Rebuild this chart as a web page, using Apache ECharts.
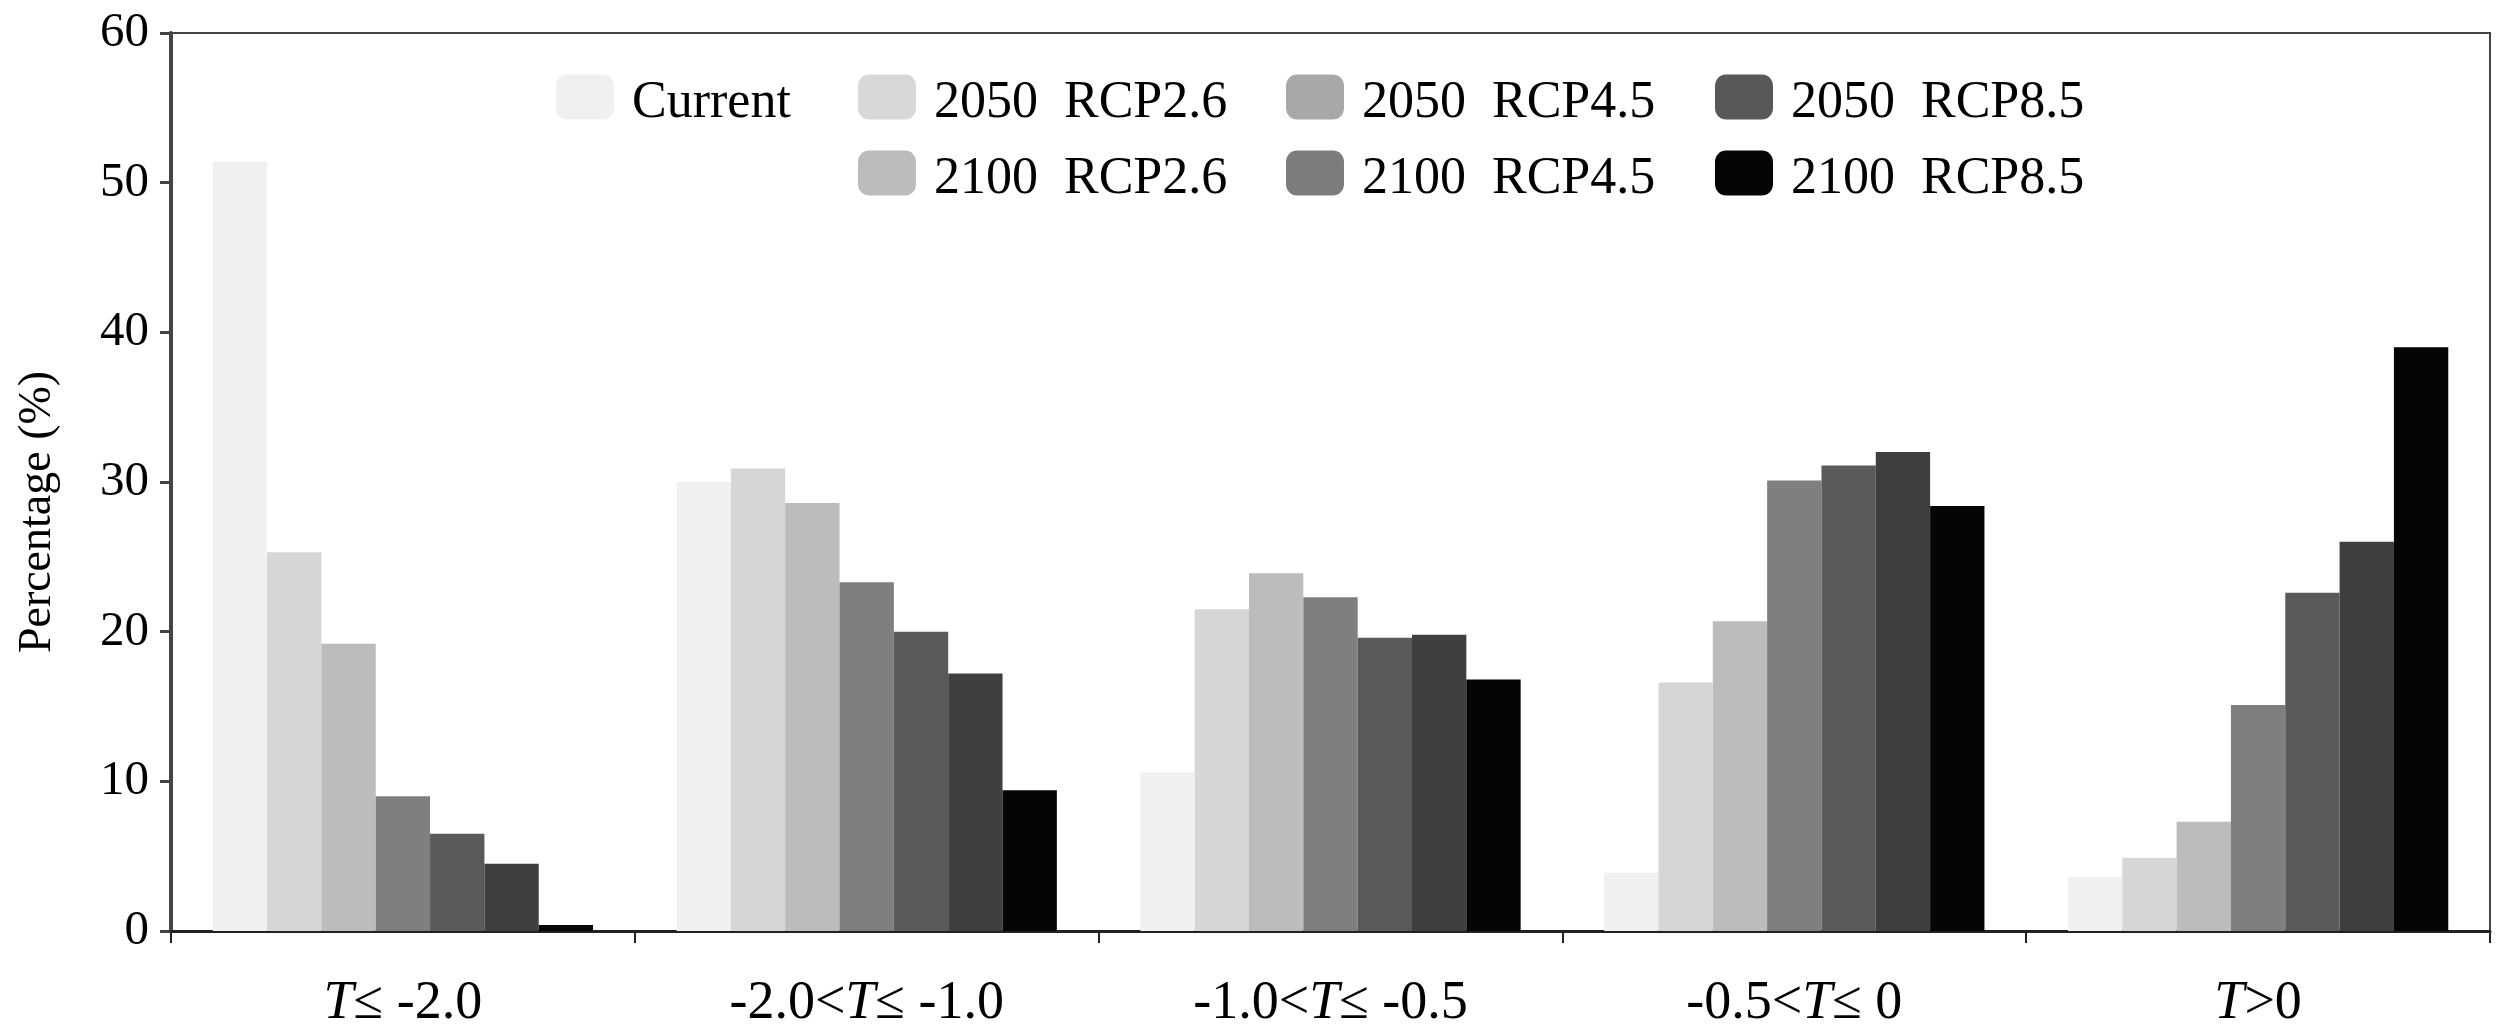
<!DOCTYPE html>
<html>
<head>
<meta charset="utf-8">
<script src="https://cdn.jsdelivr.net/npm/echarts@6/dist/echarts.min.js"></script>
<style>
html,body{margin:0;padding:0;background:#fff;}
#chart{width:2506px;height:1031px;}
</style>
</head>
<body>
<div id="chart"></div>
<script>
const categories = ['T≤ -2.0', '-2.0<T≤ -1.0', '-1.0<T≤ -0.5', '-0.5<T≤ 0', 'T>0'];
const seriesNames = ['Current', '2050  RCP2.6', '2100  RCP2.6', '2050  RCP4.5', '2100  RCP4.5', '2050  RCP8.5', '2100  RCP8.5'];
const current   = [51.4, 30.0, 10.6, 3.9, 3.6];
const r2050_26  = [25.3, 30.9, 21.5, 16.6, 4.9];
const r2100_26  = [19.2, 28.6, 23.9, 20.7, 7.3];
const r2050_45  = [9.0, 23.3, 22.3, 30.1, 15.1];
const r2100_45  = [6.5, 20.0, 19.6, 31.1, 22.6];
const r2050_85  = [4.5, 17.2, 19.8, 32.0, 26.0];
const r2100_85  = [0.4, 9.4, 16.8, 28.4, 39.0];
const yTicks = [0, 10, 20, 30, 40, 50, 60];

const values = [current, r2050_26, r2100_26, r2050_45, r2100_45, r2050_85, r2100_85];
const barColors = ['#f0f0f0', '#d6d6d6', '#bcbcbc', '#7f7f7f', '#5a5a5a', '#3f3f3f', '#050505'];
// legend swatch colours as they appear in the reference legend
const legendColors = {
  'Current': '#f0f0f0', '2050  RCP2.6': '#d8d8d8', '2050  RCP4.5': '#a8a8a8', '2050  RCP8.5': '#585858',
  '2100  RCP2.6': '#bcbcbc', '2100  RCP4.5': '#7c7c7c', '2100  RCP8.5': '#050505'
};
const legendPos = [
  ['Current', 556, 65], ['2050  RCP2.6', 858, 65], ['2050  RCP4.5', 1286, 65], ['2050  RCP8.5', 1715, 65],
  ['2100  RCP2.6', 858, 141], ['2100  RCP4.5', 1286, 141], ['2100  RCP8.5', 1715, 141]
];
const FONT = '"Liberation Serif", "Times New Roman", serif';

const chart = echarts.init(document.getElementById('chart'), null, {renderer: 'canvas'});
const option = {
  backgroundColor: '#ffffff',
  animation: false,
  grid: {left: 171, right: 16, top: 33, bottom: 100, show: true, borderColor: '#444', borderWidth: 2, containLabel: false},
  legend: legendPos.map(([name, x, y]) => ({
    left: x, top: y, padding: 0, orient: 'horizontal',
    itemWidth: 58, itemHeight: 45, icon: 'roundRect', selectedMode: false,
    data: [{name: name, itemStyle: {color: legendColors[name]}}],
    formatter: function (n) { return '{t|' + n + '}'; },
    textStyle: {
      fontFamily: FONT, fontSize: 52, color: '#000',
      rich: {t: {fontFamily: FONT, fontSize: 52, color: '#000', lineHeight: 45, padding: [12, 0, 0, 13]}}
    }
  })),
  xAxis: {
    type: 'category', data: categories,
    axisLine: {lineStyle: {color: '#222', width: 3}},
    axisTick: {show: true, length: 12, lineStyle: {color: '#222', width: 2}},
    axisLabel: {
      margin: 46, fontFamily: FONT, fontSize: 54, color: '#000',
      formatter: function (v) { return v.replace('T', '{i|T}'); },
      rich: {i: {fontStyle: 'italic', fontFamily: FONT, fontSize: 54, color: '#000'}}
    },
    splitLine: {show: false}
  },
  yAxis: {
    type: 'value', min: yTicks[0], max: yTicks[yTicks.length - 1], interval: yTicks[1] - yTicks[0],
    name: 'Percentage (%)', nameLocation: 'middle', nameGap: 110, nameRotate: 90,
    nameTextStyle: {fontFamily: FONT, fontSize: 46, color: '#000', padding: [0, 60, 0, 0]},
    axisLine: {show: true, lineStyle: {color: '#444', width: 4}},
    axisTick: {show: true, length: 11, lineStyle: {color: '#444', width: 3}},
    axisLabel: {margin: 22, fontFamily: FONT, fontSize: 49, color: '#000'},
    splitLine: {show: false}
  },
  series: seriesNames.map((n, i) => ({
    name: n, type: 'bar', data: values[i],
    barGap: '0%', barCategoryGap: '18%',
    itemStyle: {color: barColors[i]}
  }))
};
chart.setOption(option);
</script>
</body>
</html>
